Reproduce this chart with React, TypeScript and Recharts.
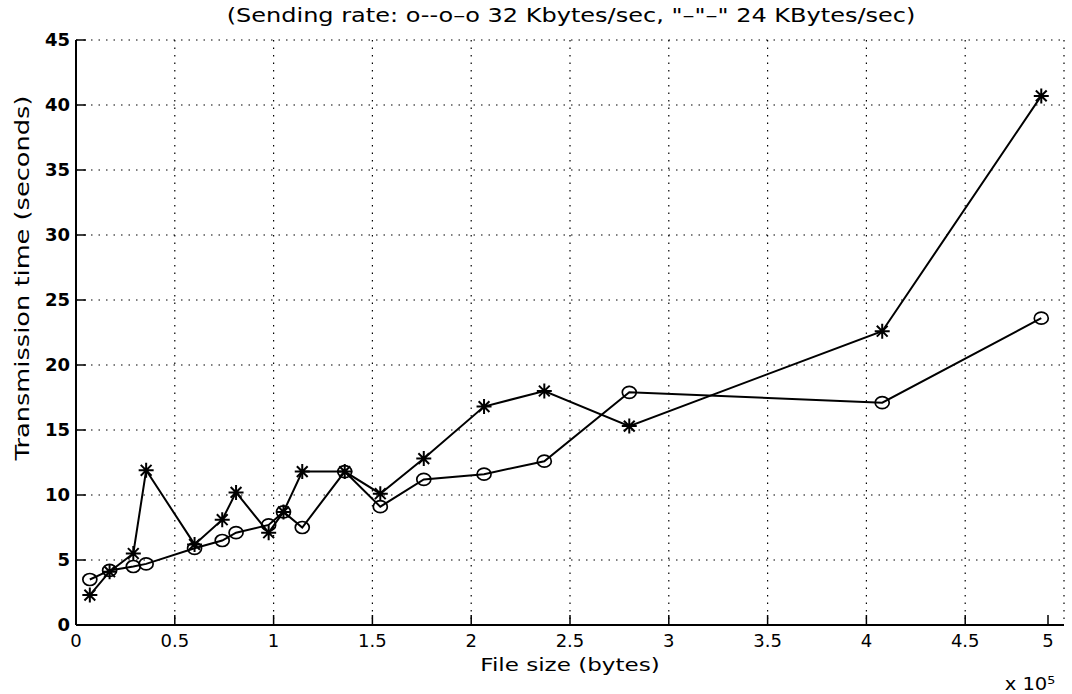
import React from 'react';
import { LineChart, Line, XAxis, YAxis, CartesianGrid } from 'recharts';

// file sizes shared by both runs (bytes)
const fileSizes = [7000, 17000, 29000, 35500, 60000, 74000, 81000, 97500, 105000, 114500, 136000, 154000, 176000, 206500, 237000, 280000, 408000, 488500];
// transmission time (seconds), 32 KBytes/sec -> circles
const rate32 = [3.5, 4.2, 4.5, 4.7, 5.9, 6.5, 7.1, 7.7, 8.7, 7.5, 11.8, 9.1, 11.2, 11.6, 12.6, 17.9, 17.1, 23.6];
// transmission time (seconds), 24 KBytes/sec -> stars
const rate24 = [2.3, 4.1, 5.5, 11.9, 6.2, 8.1, 10.2, 7.1, 8.7, 11.8, 11.8, 10.1, 12.8, 16.8, 18.0, 15.3, 22.6, 40.7];

const xTicks = [0, 50000, 100000, 150000, 200000, 250000, 300000, 350000, 400000, 450000, 500000];
const yTicks = [0, 5, 10, 15, 20, 25, 30, 35, 40, 45];

const FONT = '"DejaVu Sans", sans-serif';

const data = fileSizes.map((size, i) => ({ size, fast: rate32[i], slow: rate24[i] }));

// MATLAB style ticks: drawn inside the plot box
const YTick = ({ x, y, payload }: any) => (
    <g>
        <line x1={x + 6} x2={x + 16} y1={y} y2={y} stroke="#000" strokeWidth={1.5} />
        <text x={x} y={y} dy="0.36em" textAnchor="end" fontFamily={FONT} fontSize={18} fontWeight="bold" fill="#000">
            {payload.value}
        </text>
    </g>
);

const XTick = ({ x, y, payload }: any) => (
    <g>
        <line x1={x} x2={x} y1={y - 8} y2={y - 18} stroke="#000" strokeWidth={1.5} />
        <text x={x} y={y} dy="0.8em" textAnchor="middle" fontFamily={FONT} fontSize={18} fill="#000">
            {payload.value / 100000}
        </text>
    </g>
);

const CircleDot = ({ cx, cy, index }: any) => (
    <ellipse key={`c-${index}`} cx={cx} cy={cy} rx={7} ry={6} fill="none" stroke="#000" strokeWidth={1.7} />
);

const StarDot = ({ cx, cy, index }: any) => {
    const r = 7.5;
    const d = r * 0.72;
    return (
        <path
            key={`s-${index}`}
            d={`M${cx - r},${cy}H${cx + r}M${cx},${cy - r}V${cy + r}M${cx - d},${cy - d}L${cx + d},${cy + d}M${cx - d},${cy + d}L${cx + d},${cy - d}`}
            stroke="#000"
            strokeWidth={2}
            fill="none"
        />
    );
};

const App = () => {
    return (
        <div style={{ position: 'absolute', left: 0, top: 0, width: 1072, height: 694, background: '#fff', fontFamily: FONT, color: '#000' }}>
            <LineChart width={1072} height={694} data={data} margin={{ top: 40, right: 8, left: 0, bottom: 0 }}>
                <CartesianGrid stroke="#000" strokeWidth={1.2} strokeDasharray="1.5 6" />
                <XAxis
                    dataKey="size"
                    type="number"
                    domain={[0, 500000]}
                    ticks={xTicks}
                    height={69}
                    tickSize={0}
                    tickMargin={8}
                    tick={<XTick />}
                    axisLine={{ stroke: '#000', strokeWidth: 2 }}
                />
                <YAxis
                    type="number"
                    domain={[0, 45]}
                    ticks={yTicks}
                    width={76}
                    tickSize={0}
                    tickMargin={6}
                    tick={<YTick />}
                    axisLine={{ stroke: '#000', strokeWidth: 2 }}
                />
                <Line dataKey="fast" stroke="#000" strokeWidth={2} dot={<CircleDot />} activeDot={false} isAnimationActive={false} />
                <Line dataKey="slow" stroke="#000" strokeWidth={2} dot={<StarDot />} activeDot={false} isAnimationActive={false} />
            </LineChart>

            {/* titles and labels (scan is stretched, so glyphs are widened) */}
            <div style={{ position: 'absolute', left: 571, top: 15, width: 0, height: 0 }}>
                <div style={{ position: 'absolute', transform: 'translate(-50%, -50%) scaleX(1.2)', fontSize: 20, whiteSpace: 'nowrap' }}>
                    (Sending rate: o--o–o 32 Kbytes/sec, "–"–" 24 KBytes/sec)
                </div>
            </div>
            <div style={{ position: 'absolute', left: 22, top: 278, width: 0, height: 0 }}>
                <div style={{ position: 'absolute', transform: 'translate(-50%, -50%) rotate(-90deg) scaleX(1.35)', fontSize: 19, whiteSpace: 'nowrap' }}>
                    Transmission time (seconds)
                </div>
            </div>
            <div style={{ position: 'absolute', left: 570, top: 664, width: 0, height: 0 }}>
                <div style={{ position: 'absolute', transform: 'translate(-50%, -50%) scaleX(1.28)', fontSize: 18, whiteSpace: 'nowrap' }}>
                    File size (bytes)
                </div>
            </div>
            <div style={{ position: 'absolute', left: 1030, top: 684, width: 0, height: 0 }}>
                <div style={{ position: 'absolute', transform: 'translate(-50%, -50%) scaleX(1.15)', fontSize: 17, whiteSpace: 'nowrap' }}>
                    x 10<sup style={{ fontSize: 11 }}>5</sup>
                </div>
            </div>
        </div>
    );
};

export default App;
